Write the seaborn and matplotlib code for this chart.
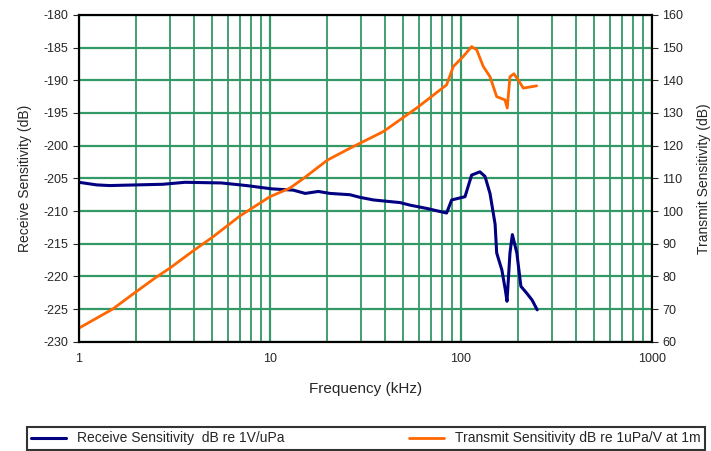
import numpy as np
import pandas as pd
import matplotlib
matplotlib.use("Agg")
import matplotlib.pyplot as plt
import seaborn as sns
from matplotlib.ticker import LogLocator, NullFormatter

# Receive sensitivity (left axis, dB re 1V/uPa)
rx_freq = [1, 1.24, 1.45, 2.76, 3.59, 5.57, 7.54, 10.2, 13.25, 15.3, 17.9, 20.6, 26.2, 29.6,
           34.8, 47.9, 54.2, 66.3, 84.1, 89.4, 105, 113.7, 125.6, 133.6, 141.9, 150.9,
           153.8, 163.7, 170.6, 174.2, 180.5, 185.8, 196.1, 205.9, 221.5, 235.6, 250.6]
rx_db = [-205.6, -206.0, -206.1, -205.9, -205.6, -205.7, -206.1, -206.6, -206.8, -207.3, -207.0,
         -207.3, -207.5, -207.9, -208.3, -208.7, -209.1, -209.6, -210.3, -208.3, -207.8, -204.5,
         -204.0, -204.7, -207.3, -212.0, -216.4, -219.0, -222.0, -223.8, -216.4, -213.6, -216.4,
         -221.5, -222.6, -223.6, -225.1]

# Transmit sensitivity (right axis, dB re 1uPa/V at 1m)
tx_freq = [1, 1.5, 2, 2.5, 3, 4, 5, 7, 8.9, 10, 12.7, 15, 20, 26.2, 39.2, 58.6, 84.1, 91.2,
           102.9, 113.7, 120.9, 130.9, 141.9, 153.8, 170, 174.7, 180.5, 189.4, 199.5, 212, 249]
tx_db = [64.2, 70.0, 75.4, 79.5, 82.6, 88.0, 92.0, 98.6, 102.5, 104.4, 107.0, 110.0, 115.6, 119.2,
         124.3, 131.5, 138.6, 144.2, 147.3, 150.3, 149.3, 144.2, 141.1, 135.0, 134.0, 131.5,
         141.1, 142.0, 140.1, 137.6, 138.3]

rx = pd.DataFrame({"freq": rx_freq, "db": rx_db})
tx = pd.DataFrame({"freq": tx_freq, "db": tx_db})

sns.set_style("white")
plt.rcParams["font.family"] = ["Liberation Sans", "DejaVu Sans"]
plt.rcParams["axes.unicode_minus"] = False
grid_green = "#339966"

fig, ax = plt.subplots(figsize=(7.11, 4.51), dpi=100)
fig.subplots_adjust(left=0.111, right=0.917, top=0.967, bottom=0.242)
ax2 = ax.twinx()

sns.lineplot(data=rx, x="freq", y="db", ax=ax, color="#000080", linewidth=2.2,
             label="Receive Sensitivity  dB re 1V/uPa", legend=False)
sns.lineplot(data=tx, x="freq", y="db", ax=ax2, color="#FF6600", linewidth=2.0,
             label="Transmit Sensitivity dB re 1uPa/V at 1m", legend=False)

for a in (ax, ax2):
    a.set_xscale("log")
    a.set_xlim(1, 1000)
ax.set_ylim(-230, -180)
ax2.set_ylim(60, 160)
ax.set_yticks(np.arange(-230, -179, 5))
ax2.set_yticks(np.arange(60, 161, 10))
ax.set_xticks([1, 10, 100, 1000])
ax.set_xticklabels(["1", "10", "100", "1000"])
ax.xaxis.set_minor_locator(LogLocator(base=10, subs=np.arange(2, 10)))
ax.xaxis.set_minor_formatter(NullFormatter())

ax.grid(True, which="major", axis="both", color=grid_green, linewidth=1.6)
ax.grid(True, which="minor", axis="x", color=grid_green, linewidth=1.3)
ax.set_axisbelow(True)
ax.tick_params(axis="x", which="both", length=0, labelsize=9, pad=8)
ax.tick_params(axis="y", direction="out", length=4, labelsize=9, left=True)
ax2.tick_params(axis="y", direction="out", length=4, labelsize=9, right=True)

for a in (ax, ax2):
    for s in a.spines.values():
        s.set_color("black")
        s.set_linewidth(1.5)

ax.set_xlabel("Frequency (kHz)", fontsize=11, labelpad=12)
ax.set_ylabel("Receive Sensitivity (dB)", fontsize=10, labelpad=8)
ax2.set_ylabel("Transmit Sensitivity (dB)", fontsize=10, rotation=90, labelpad=10)

h1, l1 = ax.get_legend_handles_labels()
h2, l2 = ax2.get_legend_handles_labels()
leg = fig.legend(h1 + h2, l1 + l2, loc="lower left", bbox_to_anchor=(0.038, 0.003, 0.953, 0.066),
                 mode="expand", ncol=2, frameon=True, fancybox=False, edgecolor="black",
                 fontsize=10, handlelength=2.5, borderaxespad=0, borderpad=0.3)
leg.get_frame().set_linewidth(1.5)

fig.savefig("out.png", dpi=100)
